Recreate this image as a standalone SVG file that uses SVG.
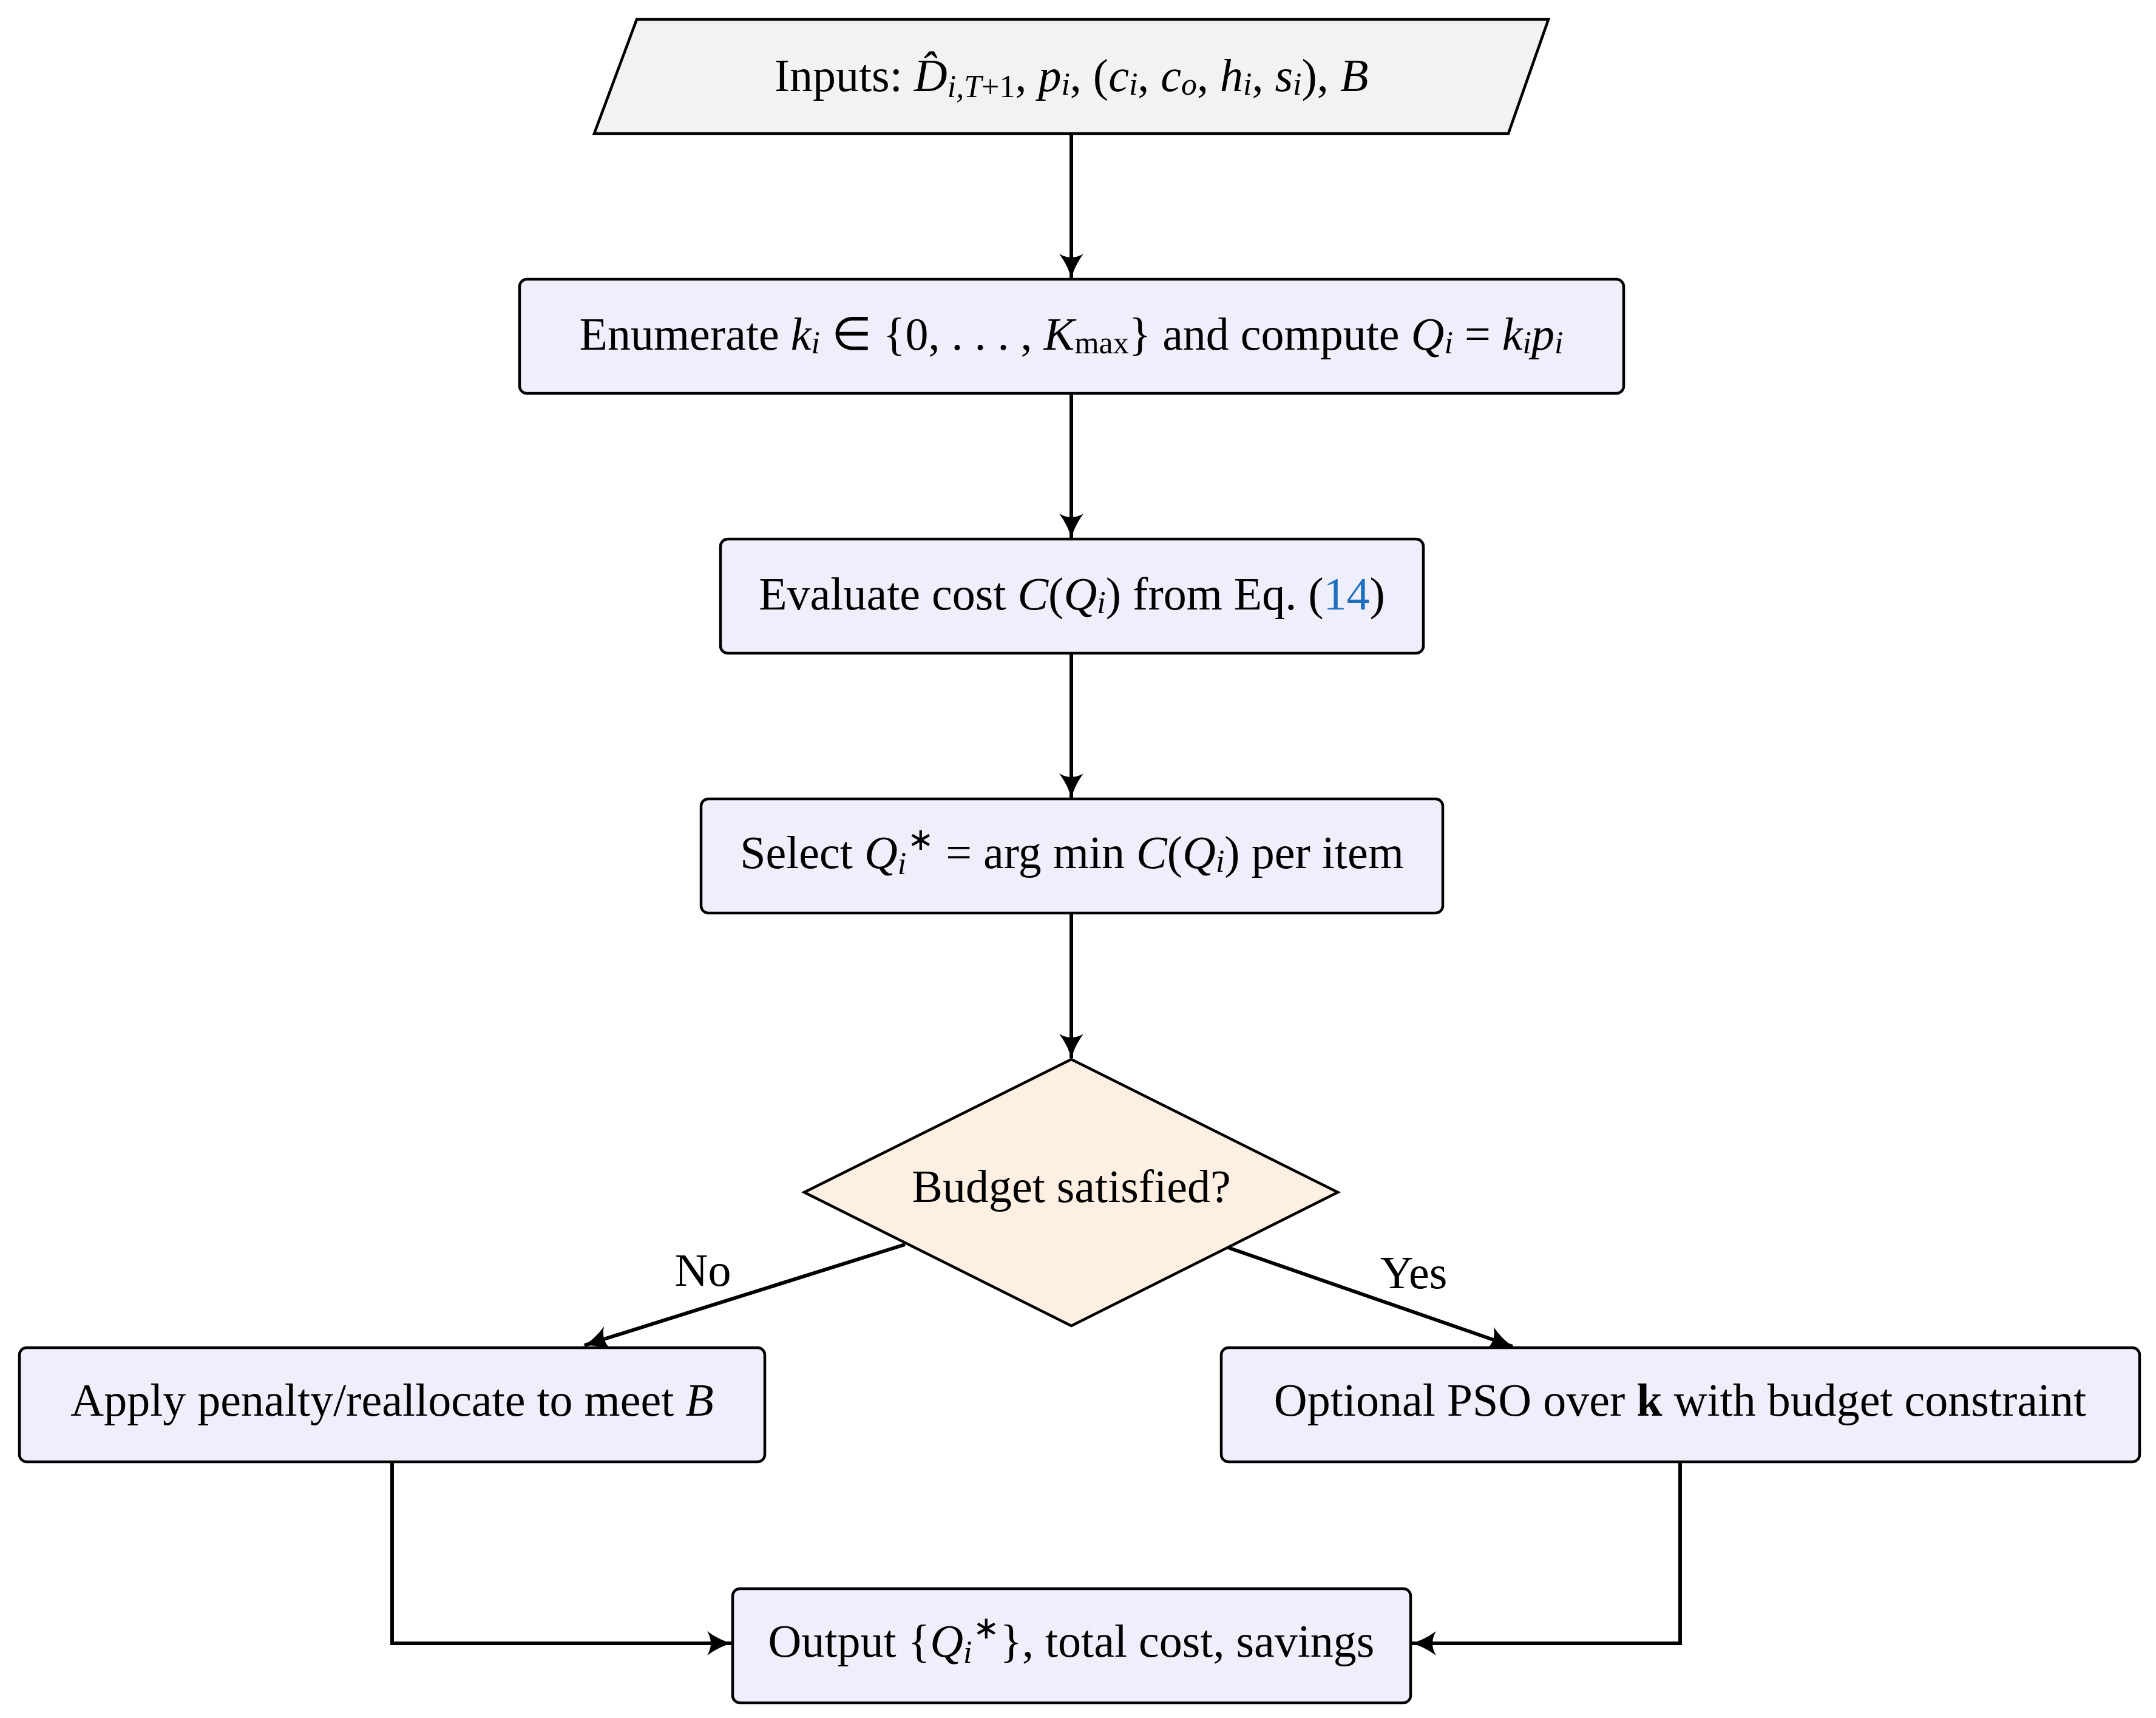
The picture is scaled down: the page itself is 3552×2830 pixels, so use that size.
<svg xmlns="http://www.w3.org/2000/svg" width="3552" height="2830" viewBox="0 0 3552 2830">
<style>
.box{fill:#EFEFFC;stroke:#000;stroke-width:4.5}
.dia{fill:#FDF0E2;stroke:#000;stroke-width:4.5}
.io{fill:#F2F2F2;stroke:#000;stroke-width:4.5}
.t{font-family:"Liberation Serif",serif;font-size:76px;fill:#000;text-anchor:middle;dominant-baseline:central}
.i{font-style:italic}
.s{font-size:52px}
.c{fill:none;stroke:#000;stroke-width:6;marker-end:url(#ah)}
</style>
<defs>
<marker id="ah" viewBox="-44 -24 48 48" refX="0" refY="0" markerWidth="48" markerHeight="48" markerUnits="userSpaceOnUse" orient="auto">
<path d="M-40,-20 Q-18,-4 2,0 Q-18,4 -40,20 Q-28,0 -40,-20Z" fill="#000"/>
</marker>
</defs>
<g id="connectors">
<line class="c" x1="1765" y1="220" x2="1765" y2="458"/>
<line class="c" x1="1765" y1="648" x2="1765" y2="886"/>
<line class="c" x1="1765" y1="1076" x2="1765" y2="1314"/>
<line class="c" x1="1765" y1="1504" x2="1765" y2="1743"/>
<line class="c" x1="1491" y1="2050" x2="963" y2="2216"/>
<line class="c" x1="2023" y1="2055" x2="2492" y2="2218"/>
<polyline class="c" points="646,2408 646,2707 1205,2707"/>
<polyline class="c" points="2768,2408 2768,2707 2326,2707"/>
<text class="t" x="1158" y="2092">No</text>
<text class="t" x="2329" y="2096">Yes</text>
</g>
<g id="n1">
<polygon class="io" points="1049,32 2551,32 2485,220 979,220"/>
<text class="t" x="1765" y="124">Inputs: <tspan class="i">D̂</tspan><tspan class="i s" dy="18">i,T</tspan><tspan class="s" dy="0">+1</tspan><tspan dy="-18">, </tspan><tspan class="i">p</tspan><tspan class="i s" dy="14">i</tspan><tspan dy="-14">, (</tspan><tspan class="i">c</tspan><tspan class="i s" dy="14">i</tspan><tspan dy="-14">, </tspan><tspan class="i">c</tspan><tspan class="i s" dy="14">o</tspan><tspan dy="-14">, </tspan><tspan class="i">h</tspan><tspan class="i s" dy="14">i</tspan><tspan dy="-14">, </tspan><tspan class="i">s</tspan><tspan class="i s" dy="14">i</tspan><tspan dy="-14">), </tspan><tspan class="i">B</tspan></text>
</g>
<g id="n2">
<rect class="box" x="856" y="460" width="1819" height="188" rx="12"/>
<text class="t" x="1765" y="550">Enumerate <tspan class="i">k</tspan><tspan class="i s" dy="14">i</tspan><tspan dy="-14"> ∈ {0, . . . , </tspan><tspan class="i">K</tspan><tspan class="s" dy="14">max</tspan><tspan dy="-14">} and compute </tspan><tspan class="i">Q</tspan><tspan class="i s" dy="14">i</tspan><tspan dy="-14"> = </tspan><tspan class="i">k</tspan><tspan class="i s" dy="14">i</tspan><tspan class="i" dy="-14">p</tspan><tspan class="i s" dy="14">i</tspan></text>
</g>
<g id="n3">
<rect class="box" x="1187" y="888" width="1158" height="188" rx="12"/>
<text class="t" x="1766" y="978">Evaluate cost <tspan class="i">C</tspan>(<tspan class="i">Q</tspan><tspan class="i s" dy="14">i</tspan><tspan dy="-14">) from Eq. (</tspan><tspan fill="#1F6FBF">14</tspan>)</text>
</g>
<g id="n4">
<rect class="box" x="1155" y="1316" width="1222" height="188" rx="12"/>
<text class="t" x="1766" y="1404">Select <tspan class="i">Q</tspan><tspan class="i s" dy="18">i</tspan><tspan class="s" dx="2" dy="-40">∗</tspan><tspan dy="22"> = arg min </tspan><tspan class="i">C</tspan>(<tspan class="i">Q</tspan><tspan class="i s" dy="14">i</tspan><tspan dy="-14">) per item</tspan></text>
</g>
<g id="n5">
<polygon class="dia" points="1765,1745 2204,1964 1765,2184 1325,1964"/>
<text class="t" x="1765" y="1954">Budget satisfied?</text>
</g>
<g id="n6">
<rect class="box" x="32" y="2220" width="1228" height="188" rx="12"/>
<text class="t" x="646" y="2306">Apply penalty/reallocate to meet <tspan class="i">B</tspan></text>
</g>
<g id="n7">
<rect class="box" x="2012" y="2220" width="1513" height="188" rx="12"/>
<text class="t" x="2768" y="2306">Optional PSO over <tspan font-weight="bold">k</tspan> with budget constraint</text>
</g>
<g id="n8">
<rect class="box" x="1207" y="2617" width="1117" height="188" rx="12"/>
<text class="t" x="1765" y="2703">Output {<tspan class="i">Q</tspan><tspan class="i s" dy="18">i</tspan><tspan class="s" dx="2" dy="-40">∗</tspan><tspan dy="22">}, total cost, savings</tspan></text>
</g>
</svg>
